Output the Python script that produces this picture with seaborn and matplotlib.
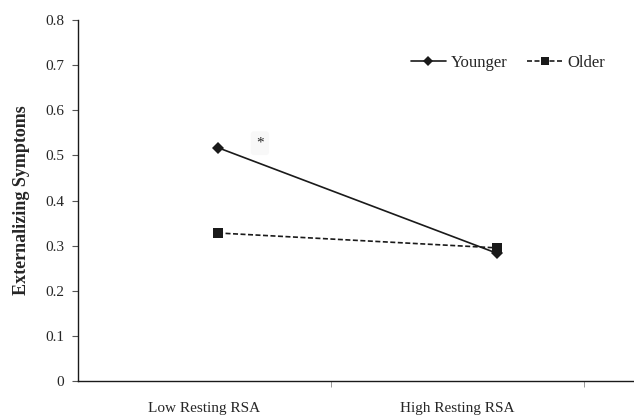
import numpy as np
import pandas as pd
import matplotlib
matplotlib.use("Agg")
import matplotlib.pyplot as plt
import seaborn as sns

categories = ["Low Resting RSA", "High Resting RSA"]
younger = [0.517, 0.283]
older = [0.328, 0.295]
groups = ["Younger", "Older"]
yticks = [0, 0.1, 0.2, 0.3, 0.4, 0.5, 0.6, 0.7, 0.8]
ytick_labels = ["0", "0.1", "0.2", "0.3", "0.4", "0.5", "0.6", "0.7", "0.8"]

sns.set_style("white")
plt.rcParams["font.family"] = ["Liberation Serif", "DejaVu Serif"]

df = pd.DataFrame({
    "pos": list(range(len(categories))) * 2,
    "value": younger + older,
    "group": [groups[0]] * len(categories) + [groups[1]] * len(categories),
})

fig = plt.figure(figsize=(6.34, 4.16), dpi=100)
ax = fig.add_axes([78 / 634, 35 / 416, 1 - 78 / 634, 361 / 416])

sns.lineplot(data=df, x="pos", y="value", hue="group", style="group",
             palette={"Younger": "#1a1a1a", "Older": "#1a1a1a"},
             markers={"Younger": "D", "Older": "s"},
             dashes={"Younger": "", "Older": (3, 1.5)},
             markersize=6.5, linewidth=1.2, markeredgewidth=0,
             ax=ax, legend=False, zorder=3)

# axis scaling: points at 218px and 497px
ax.set_xlim(-0.502, 1.491)
ax.set_ylim(0, 0.8)

ax.set_yticks(yticks)
ax.set_yticklabels(ytick_labels, fontsize=11)
ax.set_xticks([-0.05, 0.857])
ax.set_xticklabels(categories, fontsize=11)
ax.tick_params(axis="x", length=0, pad=15)
ax.set_xticks([0.405, 1.312], minor=True)
ax.tick_params(axis="x", which="minor", length=4, color="#888888", direction="out", bottom=True)
ax.tick_params(axis="y", length=4, direction="out", left=True, color="#555555", pad=6)

for s in ["top", "right"]:
    ax.spines[s].set_visible(False)
for s in ["left", "bottom"]:
    ax.spines[s].set_color("#1a1a1a")
    ax.spines[s].set_linewidth(1.0)

ax.set_xlabel("")
ax.set_ylabel("Externalizing Symptoms", fontsize=13, fontweight="bold", labelpad=11)

# legend
from matplotlib.lines import Line2D
handles = [
    Line2D([], [], color="#1a1a1a", lw=1.2, marker="D", markersize=5, markeredgewidth=0),
    Line2D([], [], color="#1a1a1a", lw=1.2, ls=(0, (3, 1.5)), marker="s", markersize=6, markeredgewidth=0),
]
ax.legend(handles, groups, loc="upper right", bbox_to_anchor=(0.975, 0.945), ncol=2,
          frameon=False, fontsize=12, handlelength=2.1, handletextpad=0.3, columnspacing=1.2)

ax.text(0.15, 0.527, "*", fontsize=11, ha="center", va="center", zorder=1,
        bbox=dict(boxstyle="round,pad=0.35,rounding_size=0.2", fc="#f8f8f8", ec="none"))

fig.savefig("out.png", dpi=100)
